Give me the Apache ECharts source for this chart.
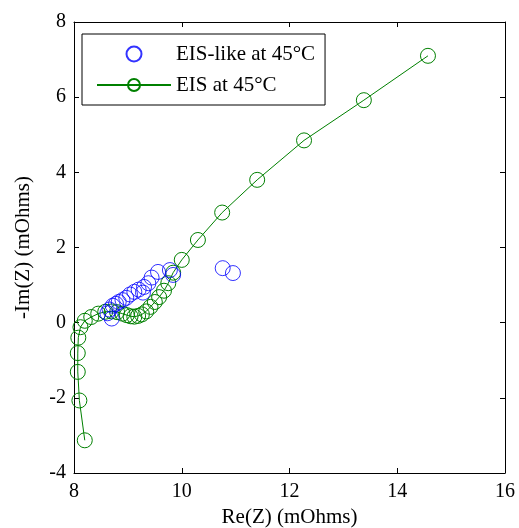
<!DOCTYPE html>
<html><head><meta charset="utf-8">
<script src="https://cdn.jsdelivr.net/npm/echarts@6/dist/echarts.min.js"></script>
<style>html,body{margin:0;padding:0;background:#fff}#c{width:519px;height:528px}</style>
</head><body><div id="c"></div>
<script>
var xTicks = [8, 10, 12, 14, 16];
var yTicks = [-4, -2, 0, 2, 4, 6, 8];
var eisLikeRe = [8.62, 8.66, 8.70, 8.72, 8.78, 8.83, 8.90, 8.97, 9.04, 9.12, 9.20, 9.28, 9.30, 9.38, 9.44, 9.56, 9.78, 9.84, 10.76, 10.95];
var eisLikeIm = [0.25, 0.35, 0.11, 0.45, 0.50, 0.55, 0.60, 0.66, 0.75, 0.82, 0.88, 0.80, 0.95, 1.05, 1.20, 1.35, 1.40, 1.27, 1.45, 1.32];
var eisRe = [8.20, 8.10, 8.07, 8.07, 8.08, 8.12, 8.20, 8.32, 8.45, 8.58, 8.70, 8.80, 8.90, 8.98, 9.05, 9.12, 9.19, 9.26, 9.34, 9.42, 9.50, 9.58, 9.67, 9.75, 9.84, 10.00, 10.30, 10.75, 11.40, 12.27, 13.38, 14.57];
var eisIm = [-3.13, -2.07, -1.31, -0.81, -0.40, -0.12, 0.05, 0.15, 0.24, 0.29, 0.30, 0.28, 0.24, 0.20, 0.17, 0.16, 0.18, 0.22, 0.30, 0.42, 0.55, 0.68, 0.85, 1.05, 1.33, 1.67, 2.20, 2.93, 3.80, 4.85, 5.92, 7.10];

function zip(a, b) { return a.map(function (v, i) { return [v, b[i]]; }); }
var font = 'Liberation Serif';
var chart = echarts.init(document.getElementById('c'), null, {renderer: 'canvas'});
var tickStyle = {inside: true, length: 5, lineStyle: {color: '#000', width: 1}};
var lineStyle = {show: true, onZero: false, lineStyle: {color: '#000', width: 1}};
chart.setOption({
  animation: false,
  backgroundColor: '#fff',
  grid: {left: 74, right: 14, top: 22, bottom: 55, containLabel: false, outerBoundsMode: 'none'},
  legend: {
    left: 82, top: 34, orient: 'vertical',
    backgroundColor: '#fff', borderColor: '#000', borderWidth: 1, borderRadius: 0,
    padding: [9, 10, 9, 14], itemGap: 9, itemWidth: 74, itemHeight: 15,
    textStyle: {fontFamily: font, fontSize: 21, lineHeight: 22, color: '#000'},
    data: ['EIS-like at 45\u00b0C', 'EIS at 45\u00b0C']
  },
  xAxis: [{
    type: 'value', min: xTicks[0], max: xTicks[xTicks.length - 1], interval: 2,
    name: 'Re(Z) (mOhms)', nameLocation: 'middle', nameGap: 34,
    nameTextStyle: {fontFamily: font, fontSize: 21, color: '#000'},
    axisLine: lineStyle, axisTick: tickStyle, splitLine: {show: false},
    axisLabel: {fontFamily: font, fontSize: 20, color: '#000', margin: 9}
  }, {
    type: 'value', position: 'top', min: xTicks[0], max: xTicks[xTicks.length - 1], interval: 2,
    axisLine: lineStyle, axisTick: tickStyle, splitLine: {show: false}, axisLabel: {show: false}
  }],
  yAxis: [{
    type: 'value', min: yTicks[0], max: yTicks[yTicks.length - 1], interval: 2,
    name: '-Im(Z) (mOhms)', nameLocation: 'middle', nameGap: 40,
    nameTextStyle: {fontFamily: font, fontSize: 21, color: '#000'},
    axisLine: lineStyle, axisTick: tickStyle, splitLine: {show: false},
    axisLabel: {fontFamily: font, fontSize: 20, color: '#000', margin: 8}
  }, {
    type: 'value', position: 'right', min: yTicks[0], max: yTicks[yTicks.length - 1], interval: 2,
    axisLine: lineStyle, axisTick: tickStyle, splitLine: {show: false}, axisLabel: {show: false}
  }],
  series: [{
    name: 'EIS-like at 45\u00b0C', type: 'scatter', symbol: 'circle', symbolSize: 15,
    itemStyle: {color: 'rgba(0,0,0,0)', borderColor: '#0000ff', borderWidth: 1},
    data: zip(eisLikeRe, eisLikeIm), z: 3
  }, {
    name: 'EIS at 45\u00b0C', type: 'line', symbol: 'circle', symbolSize: 15, showAllSymbol: true,
    lineStyle: {color: '#008000', width: 1},
    itemStyle: {color: 'rgba(0,0,0,0)', borderColor: '#008000', borderWidth: 1},
    data: zip(eisRe, eisIm), z: 2
  }]
});
</script></body></html>
